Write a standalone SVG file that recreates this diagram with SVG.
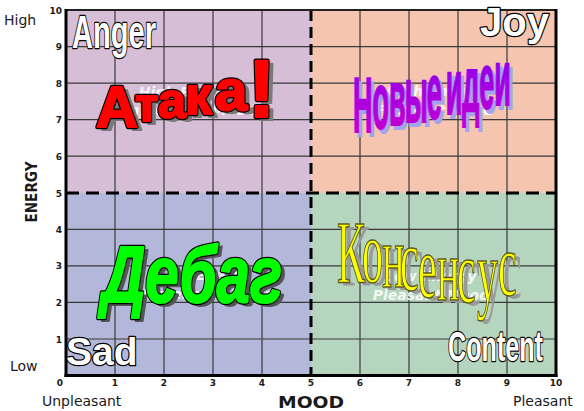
<svg xmlns="http://www.w3.org/2000/svg" xmlns:xlink="http://www.w3.org/1999/xlink" width="584" height="411" viewBox="0 0 584 411">
<style>
.grid{stroke:#3a3a3a;stroke-width:1.2;fill:none}
.dash{stroke:#000;stroke-width:3;fill:none}
.axis{font-family:"DejaVu Sans",Verdana,sans-serif;font-size:14px;fill:#1a1a1a}
.tick{font-family:"DejaVu Sans",Verdana,sans-serif;font-size:9px;font-weight:bold;fill:#1a1a1a}
.ytick{text-anchor:end}
.xtick{text-anchor:middle}
.title{font-family:"DejaVu Sans",Verdana,sans-serif;font-size:15px;font-weight:bold;fill:#1a1a1a}
.faint{font-family:"DejaVu Sans",Verdana,sans-serif;font-size:14px;font-weight:bold;font-style:italic;fill:#fff;fill-opacity:.85;text-anchor:middle}
.mood{font-family:"Liberation Sans",Arial,sans-serif;font-weight:bold;fill:#fff;stroke:#000;stroke-width:2.4;paint-order:stroke;stroke-linejoin:round}
</style>
<defs>
<linearGradient id="purp" x1="0" y1="0" x2="0" y2="1">
<stop offset="0" stop-color="#7d00f5"/>
<stop offset="1" stop-color="#d000cc"/>
</linearGradient>
<text id="t-ataka" font-family="Liberation Sans, Arial, sans-serif" font-weight="bold" stroke-linejoin="round"><tspan x="96" y="127" font-size="58">А</tspan><tspan x="135" y="121" font-size="47">т</tspan><tspan x="158" y="118" font-size="50">а</tspan><tspan x="185" y="114" font-size="54">к</tspan><tspan x="215" y="110" font-size="58">а</tspan><tspan x="248" y="117" font-size="82">!</tspan></text>
<text id="t-idei" font-family="Liberation Sans, Arial, sans-serif" font-weight="bold" font-size="27" x="353 372.5 389 404.7 426.7 441.7 445.7 462.2 479.2 494.2" y="45.52 44.24 43.17 42.14 40.69 39.72 39.45 38.38 37.24 36.28">Новые идеи</text>
<text id="t-debag" font-family="Liberation Sans, Arial, sans-serif" font-weight="bold" font-style="italic" font-size="80" x="102" y="302" textLength="180" lengthAdjust="spacingAndGlyphs" stroke-linejoin="round">Дебаг</text>
<text id="t-kons" font-family="Liberation Serif, Times New Roman, serif" font-size="42" x="337 362 382 400 418 437 457 477 498" y="134.29 134.29 136.67 138.1 141.43 142.86 143.81 143.81 140.48">Консенсус</text>
</defs>

<g id="quadrants">
<rect x="66" y="10" width="245" height="183" fill="#d6bed6"/>
<rect x="311" y="10" width="245" height="183" fill="#f5c5b0"/>
<rect x="66" y="193" width="245" height="182.5" fill="#b3b7d9"/>
<rect x="311" y="193" width="245" height="182.5" fill="#b5d5be"/>
</g>

<g id="grid" class="grid">
<path d="M115 10V375.5M164 10V375.5M213 10V375.5M262 10V375.5M360 10V375.5M409 10V375.5M458 10V375.5M507 10V375.5"/>
<path d="M66 46.6H556M66 83.1H556M66 119.7H556M66 156.2H556M66 229.3H556M66 265.9H556M66 302.4H556M66 339H556"/>
</g>

<g id="midlines">
<line class="dash" x1="66" y1="193" x2="556" y2="193" stroke-dasharray="13 7"/>
<line class="dash" x1="311" y1="10" x2="311" y2="375.5" stroke-dasharray="11 6"/>
</g>

<g id="border">
<line x1="66" y1="10" x2="556" y2="10" stroke="#222" stroke-width="2"/>
<line x1="66" y1="9" x2="66" y2="377" stroke="#000" stroke-width="3"/>
<line x1="556" y1="9" x2="556" y2="377" stroke="#000" stroke-width="3"/>
<line x1="64.5" y1="375.5" x2="557.5" y2="375.5" stroke="#000" stroke-width="3"/>
</g>

<g id="faint-labels">
<text class="faint" x="187" y="97">High Energy</text>
<text class="faint" x="187" y="115">Unpleasant Mood</text>
<text class="faint" x="435" y="96">High Energy</text>
<text class="faint" x="435" y="115">Pleasant Mood</text>
<text class="faint" x="205" y="280">Low Energy</text>
<text class="faint" x="205" y="299">Unpleasant Mood</text>
<text class="faint" x="431" y="281">Low Energy</text>
<text class="faint" x="431" y="300">Pleasant Mood</text>
</g>

<g id="mood-labels">
<text class="mood" x="72" y="48" font-size="46" textLength="84" lengthAdjust="spacingAndGlyphs">Anger</text>
<text class="mood" x="480" y="36" font-size="40">Joy</text>
<text class="mood" x="66" y="365" font-size="39">Sad</text>
<text class="mood" x="448" y="361" font-size="42" textLength="95" lengthAdjust="spacingAndGlyphs">Content</text>
</g>

<g id="wordart-ataka">
<use href="#t-ataka" fill="#7a7a7a" stroke="#7a7a7a" stroke-width="2" transform="translate(5,3)"/>
<use href="#t-ataka" fill="#ff0000" stroke="#000" stroke-width="4.5"/>
<use href="#t-ataka" fill="#ff0000" stroke="#ff0000" stroke-width="2.2"/>
</g>

<g id="wordart-idei">
<g transform="translate(3,4) scale(1,2.9)"><use href="#t-idei" fill="#a3a3f0" stroke="#a3a3f0" stroke-width="0.7"/></g>
<g transform="scale(1,2.9)"><use href="#t-idei" fill="url(#purp)" stroke="url(#purp)" stroke-width="0.7"/></g>
</g>

<g id="wordart-debag">
<use href="#t-debag" fill="#555" stroke="#555" stroke-width="2" transform="translate(4,3)"/>
<use href="#t-debag" fill="#00ff00" stroke="#000" stroke-width="4.5"/>
<use href="#t-debag" fill="#00ff00" stroke="#00ff00" stroke-width="2"/>
</g>

<g id="wordart-kons">
<g transform="translate(5,3) scale(1,2.1)"><use href="#t-kons" fill="#999"/></g>
<g transform="scale(1,2.1)"><use href="#t-kons" fill="#ffff00" stroke="#5a5a20" stroke-width="0.7"/></g>
</g>

<g id="axes">
<text class="tick ytick" x="62" y="14">10</text>
<text class="tick ytick" x="62" y="50.1">9</text>
<text class="tick ytick" x="62" y="86.6">8</text>
<text class="tick ytick" x="62" y="123.2">7</text>
<text class="tick ytick" x="62" y="159.7">6</text>
<text class="tick ytick" x="62" y="196.5">5</text>
<text class="tick ytick" x="62" y="232.8">4</text>
<text class="tick ytick" x="62" y="269.4">3</text>
<text class="tick ytick" x="62" y="305.9">2</text>
<text class="tick ytick" x="62" y="342.5">1</text>
<text class="tick xtick" x="60" y="386">0</text>
<text class="tick xtick" x="115" y="386">1</text>
<text class="tick xtick" x="164" y="386">2</text>
<text class="tick xtick" x="213" y="386">3</text>
<text class="tick xtick" x="262" y="386">4</text>
<text class="tick xtick" x="311" y="386">5</text>
<text class="tick xtick" x="360" y="386">6</text>
<text class="tick xtick" x="409" y="386">7</text>
<text class="tick xtick" x="458" y="386">8</text>
<text class="tick xtick" x="507" y="386">9</text>
<text class="tick xtick" x="556" y="386">10</text>
<text class="axis" x="4" y="25">High</text>
<text class="axis" x="10" y="371">Low</text>
<text class="axis" x="42" y="406">Unpleasant</text>
<text class="axis" x="513" y="406">Pleasant</text>
<text class="title" x="278" y="408" textLength="66" lengthAdjust="spacingAndGlyphs">MOOD</text>
<text class="title" transform="translate(37,192) rotate(-90)" x="0" y="0" text-anchor="middle" textLength="61" lengthAdjust="spacingAndGlyphs">ENERGY</text>
</g>
</svg>
